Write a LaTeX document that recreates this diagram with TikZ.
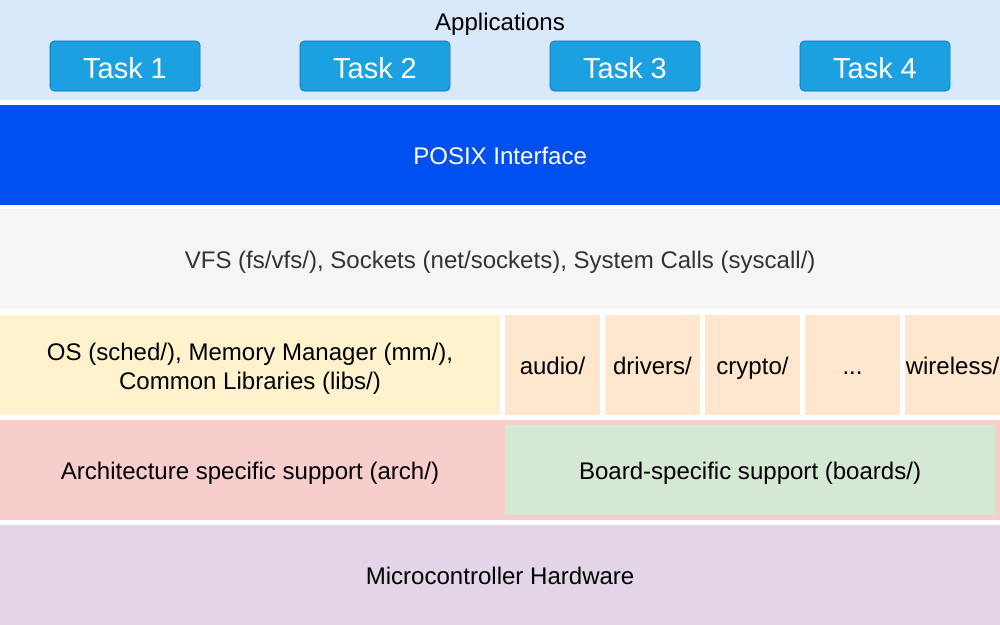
\documentclass[tikz,border=0pt]{standalone}
\usepackage{fontspec}
\setmainfont{Liberation Sans}
\usepackage{xcolor}
\definecolor{appsBlue}{HTML}{DAE8FC}
\definecolor{taskBlue}{HTML}{1BA1E2}
\definecolor{taskEdge}{HTML}{006EAF}
\definecolor{posixBlue}{HTML}{0050EF}
\definecolor{vfsGrey}{HTML}{F5F5F5}
\definecolor{vfsText}{HTML}{333333}
\definecolor{osYellow}{HTML}{FFF2CC}
\definecolor{subOrange}{HTML}{FFE6CC}
\definecolor{archRed}{HTML}{F8CECC}
\definecolor{boardGreen}{HTML}{D5E8D4}
\definecolor{hwPurple}{HTML}{E1D5E7}

\begin{document}
\begin{tikzpicture}[
    x=0.025cm, y=-0.025cm,
    every node/.style={inner sep=0pt, outer sep=0pt, text height=15.1pt, text depth=2pt,
        font=\fontsize{17.1}{20.5}\selectfont},
    layer/.style={rectangle, anchor=north west, minimum width=25cm, minimum height=2.5cm},
    task/.style={rectangle, draw=taskEdge, fill=taskBlue, rounded corners=3pt, anchor=north west,
        minimum width=3.75cm, minimum height=1.25cm, text=white, text height=20.4pt, text depth=2.5pt,
        font=\fontsize{20.6}{24}\selectfont},
    subdir/.style={rectangle, fill=subOrange, anchor=north west, minimum width=2.375cm, minimum height=2.5cm}
]

\useasboundingbox (0,0) rectangle (1000,625);

% Applications
\node[layer, fill=appsBlue] (apps) at (0,0) {};
\node (appstitle) at (500,21) {Applications};
\node[task] (task1) at (50,41) {Task 1};
\node[task] (task2) at (300,41) {Task 2};
\node[task] (task3) at (550,41) {Task 3};
\node[task] (task4) at (800,41) {Task 4};

% Interfaces
\node[layer, fill=posixBlue, text=white] (posix) at (0,105) {POSIX Interface};
\node[layer, fill=vfsGrey, text=vfsText] (vfs) at (0,209) {VFS (fs/vfs/), Sockets (net/sockets), System Calls (syscall/)};

% Kernel and subsystems
\node[layer, fill=osYellow, minimum width=12.5cm] (os) at (0,315) {};
\node[align=center, text height={}, text depth={}] (ostext) at (250,369)
    {OS (sched/), Memory Manager (mm/),\\Common Libraries (libs/)};
\node[subdir] (audio) at (505,315) {audio/};
\node[subdir] (drivers) at (605,315) {drivers/};
\node[subdir] (crypto) at (705,315) {crypto/};
\node[subdir] (more) at (805,315) {...};
\node[subdir] (wireless) at (905,315) {wireless/};

% Platform support
\node[layer, fill=archRed] (arch) at (0,420) {};
\node (archtext) at (250,470) {Architecture specific support (arch/)};
\node[rectangle, fill=boardGreen, anchor=north west, minimum width=12.25cm, minimum height=2.25cm] (board) at (505,425)
    {Board-specific support (boards/)};

% Hardware
\node[layer, fill=hwPurple] (hw) at (0,525) {Microcontroller Hardware};

\end{tikzpicture}
\end{document}
